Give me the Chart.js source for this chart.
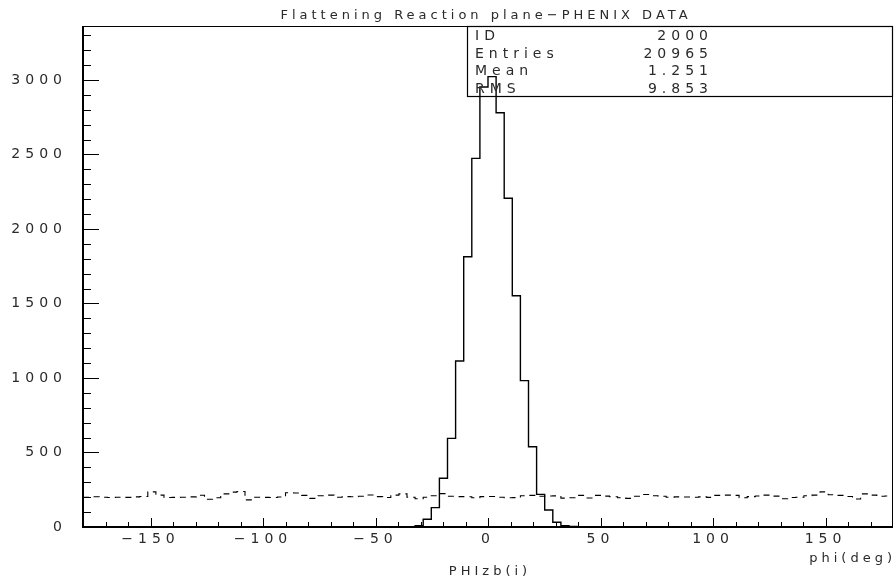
<!DOCTYPE html>
<html>
<head>
<meta charset="utf-8">
<title>Flattening Reaction plane - PHENIX DATA</title>
<script src="https://cdn.jsdelivr.net/npm/chart.js@4.4.1/dist/chart.umd.min.js"></script>
<style>
  html, body { margin: 0; padding: 0; background: #fff; }
  #wrap { width: 895px; height: 582px; }
</style>
</head>
<body>
<div id="wrap"><canvas id="phiChart" width="895" height="582"></canvas></div>
<script>
// histogram binning (100 bins of 3.6 deg from -180 to 180)
const binLow = -180;
const binWidth = 3.6;

// PHIzb(i) before flattening (solid)
const phiRaw = [
    0, 0, 0, 0, 0, 0, 0, 0, 0, 0,
    0, 0, 0, 0, 0, 0, 0, 0, 0, 0,
    0, 0, 0, 0, 0, 0, 0, 0, 0, 0,
    0, 0, 0, 0, 0, 0, 0, 0, 0, 0,
    2, 8, 52, 130, 327, 595, 1114, 1814, 2474, 2953,
    3022, 2780, 2206, 1552, 982, 539, 219, 114, 32, 9,
    3, 0, 0, 0, 0, 0, 0, 0, 0, 0,
    0, 0, 0, 0, 0, 0, 0, 0, 0, 0,
    0, 0, 0, 0, 0, 0, 0, 0, 0, 0,
    0, 0, 0, 0, 0, 0, 0, 0, 0, 0
];

// after flattening (dashed)
const phiFlat = [
    200, 203, 200, 198, 200, 199, 202, 205, 236, 214,
    198, 199, 200, 202, 213, 186, 196, 222, 234, 238,
    182, 200, 199, 198, 201, 230, 228, 212, 192, 210,
    214, 200, 204, 203, 206, 215, 204, 198, 214, 222,
    200, 190, 200, 210, 224, 206, 204, 203, 196, 204,
    205, 200, 196, 197, 210, 212, 206, 208, 209, 194,
    196, 212, 195, 212, 207, 203, 196, 192, 206, 218,
    210, 206, 200, 202, 201, 200, 202, 199, 212, 214,
    212, 196, 204, 208, 214, 207, 190, 198, 200, 210,
    214, 236, 216, 212, 205, 188, 222, 214, 206, 208
];

const xTicks = [-150, -100, -50, 0, 50, 100, 150];
const yTicks = [0, 500, 1000, 1500, 2000, 2500, 3000];

const statLabels = ["ID", "Entries", "Mean", "RMS"];
const statValues = ["2000", "20965", "1.251", "9.853"];

const chartTitle = "Flattening Reaction plane\u2212PHENIX DATA";
const xTitle = "phi(deg)";
const yTitle = "PHIzb(i)";

// turn bin contents into step points at the bin edges
function toSteps(values) {
    const pts = values.map((v, i) => ({ x: +(binLow + i * binWidth).toFixed(2), y: v }));
    pts.push({ x: +(binLow + values.length * binWidth).toFixed(2), y: values[values.length - 1] });
    return pts;
}

const FONT = "'DejaVu Sans', sans-serif";
const TEXT = "#2a2a2a";

// PAW-style frame, inside ticks, title and stats box
const pawFrame = {
    id: "pawFrame",
    beforeDraw(chart) {
        // wide spacing for the axis numbers
        chart.ctx.letterSpacing = "5px";
    },
    afterDraw(chart) {
        const { ctx, chartArea: a, scales: { x, y } } = chart;
        ctx.save();
        ctx.strokeStyle = "#000";

        // frame
        ctx.lineWidth = 1;
        ctx.strokeRect(a.left + 0.5, a.top + 0.5, a.right - a.left - 1, a.bottom - a.top);
        ctx.lineWidth = 2;
        ctx.beginPath();
        ctx.moveTo(a.left, a.top);
        ctx.lineTo(a.left, a.bottom);
        ctx.lineTo(a.right, a.bottom);
        ctx.stroke();

        // ticks pointing into the plot
        ctx.lineWidth = 1;
        ctx.beginPath();
        for (let v = 100; v <= y.max; v += 100) {
            const py = Math.round(y.getPixelForValue(v)) + 0.5;
            const len = v % 500 === 0 ? 16 : 8;
            ctx.moveTo(a.left, py);
            ctx.lineTo(a.left + len, py);
        }
        for (let v = -170; v < 180; v += 10) {
            const px = Math.round(x.getPixelForValue(v)) + 0.5;
            const len = v % 50 === 0 ? 9 : 5;
            ctx.moveTo(px, a.bottom);
            ctx.lineTo(px, a.bottom - len);
        }
        ctx.stroke();

        // stats box
        const boxLeft = 467.5;
        const boxBottom = 96.5;
        ctx.lineWidth = 1.2;
        ctx.strokeRect(boxLeft, a.top + 0.5, a.right - boxLeft - 0.5, boxBottom - a.top - 0.5);

        ctx.fillStyle = TEXT;
        ctx.font = "14px " + FONT;
        ctx.letterSpacing = "5px";
        ctx.textBaseline = "alphabetic";
        statLabels.forEach((lab, i) => {
            const by = 40 + i * 17.6;
            ctx.textAlign = "left";
            ctx.fillText(lab, 475, by);
            ctx.textAlign = "right";
            ctx.fillText(statValues[i], 713, by);
        });

        // title
        ctx.font = "13px " + FONT;
        ctx.letterSpacing = "4px";
        ctx.textAlign = "center";
        ctx.fillText(chartTitle, (a.left + a.right) / 2 - 2, 19);

        // axis titles
        ctx.textAlign = "right";
        ctx.fillText(xTitle, a.right + 3, 562);
        ctx.textAlign = "center";
        ctx.fillText(yTitle, x.getPixelForValue(0) + 2, 575);

        ctx.restore();
    }
};

Chart.defaults.font.family = FONT;
Chart.defaults.font.size = 14;
Chart.defaults.color = TEXT;

new Chart(document.getElementById("phiChart"), {
    type: "line",
    data: {
        datasets: [
            {
                label: "raw",
                data: toSteps(phiRaw),
                stepped: "before",
                borderColor: "#000",
                borderWidth: 1.4,
                pointRadius: 0,
                fill: false
            },
            {
                label: "flattened",
                data: toSteps(phiFlat),
                stepped: "before",
                borderColor: "#000",
                borderWidth: 1.1,
                borderDash: [6, 5],
                pointRadius: 0,
                fill: false
            }
        ]
    },
    options: {
        responsive: false,
        animation: false,
        devicePixelRatio: 1,
        layout: { padding: { left: 0, right: 2, top: 26, bottom: 0 } },
        plugins: {
            legend: { display: false },
            title: { display: false },
            tooltip: { enabled: false }
        },
        scales: {
            x: {
                type: "linear",
                min: -180,
                max: 180,
                grid: { display: false, drawTicks: false },
                border: { display: false },
                afterFit: (scale) => { scale.height = 55; },
                afterBuildTicks: (scale) => { scale.ticks = xTicks.map(v => ({ value: v })); },
                ticks: {
                    padding: 4,
                    maxRotation: 0,
                    autoSkip: false,
                    callback: (v) => String(v).replace("-", "\u2212")
                }
            },
            y: {
                type: "linear",
                min: 0,
                max: 3362,
                grid: { display: false, drawTicks: false },
                border: { display: false },
                afterFit: (scale) => { scale.width = 83; },
                afterBuildTicks: (scale) => { scale.ticks = yTicks.map(v => ({ value: v })); },
                ticks: {
                    padding: 16,
                    autoSkip: false,
                    callback: (v) => String(v)
                }
            }
        }
    },
    plugins: [pawFrame]
});
</script>
</body>
</html>
